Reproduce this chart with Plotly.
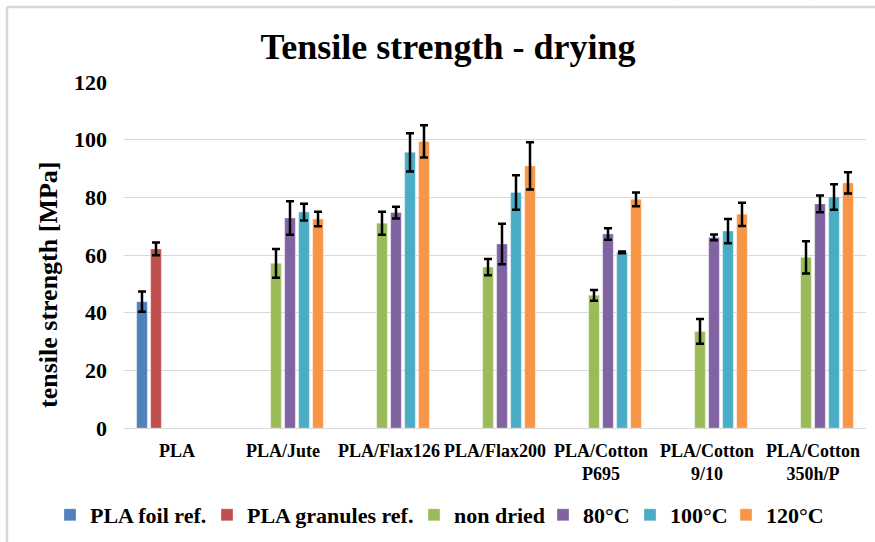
import plotly.graph_objects as go

categories = ["PLA", "PLA/Jute", "PLA/Flax126", "PLA/Flax200",
              "PLA/Cotton<br>P695", "PLA/Cotton<br>9/10", "PLA/Cotton<br>350h/P"]

series_names = ["PLA foil ref.", "PLA granules ref.", "non dried", "80°C", "100°C", "120°C"]
colors = ["#4F81BD", "#C0504D", "#9BBB59", "#8064A2", "#4BACC6", "#F79646"]

foil_ref = [43.8, None, None, None, None, None, None]
foil_err = [3.5, None, None, None, None, None, None]
granules_ref = [62.1, None, None, None, None, None, None]
granules_err = [2.2, None, None, None, None, None, None]
non_dried = [None, 57.1, 71.0, 55.8, 46.0, 33.5, 59.2]
non_dried_err = [None, 5.0, 4.0, 2.8, 1.9, 4.3, 5.6]
dried_80 = [None, 72.8, 74.7, 63.8, 67.3, 66.1, 77.7]
dried_80_err = [None, 5.8, 2.0, 7.0, 2.0, 1.0, 2.9]
dried_100 = [None, 74.9, 95.6, 81.7, 60.9, 68.3, 80.1]
dried_100_err = [None, 2.9, 6.6, 6.0, 0.3, 4.2, 4.4]
dried_120 = [None, 72.5, 99.4, 90.9, 79.3, 74.1, 85.0]
dried_120_err = [None, 2.5, 5.6, 8.2, 2.4, 4.0, 3.7]

values = [foil_ref, granules_ref, non_dried, dried_80, dried_100, dried_120]
errors = [foil_err, granules_err, non_dried_err, dried_80_err, dried_100_err, dried_120_err]

yticks = [0, 20, 40, 60, 80, 100, 120]

FONT = "Liberation Serif"

L, R, T, B = 124, 9, 82, 114
W, H = 875, 542
pw, ph = W - L - R, H - T - B

def px_x(p):
    return (p - L) / pw

def px_y(p):
    return (H - B - p) / ph

# legend entry widths (px) so the entries sit where the reference puts them
legend_widths = [112, 162, 84, 42, 51, 56]

fig = go.Figure()
for name, col, vals, errs, lw in zip(series_names, colors, values, errors, legend_widths):
    fig.add_trace(go.Bar(
        name="<b>%s</b>" % name, x=categories, y=vals,
        legendwidth=lw,
        marker=dict(color=col, line=dict(color="rgba(255,255,255,0.6)", width=0.5)),
        error_y=dict(type="data", array=[e if e is not None else 0 for e in errs],
                     visible=True, color="black", thickness=2.5, width=4),
    ))

fig.update_layout(
    width=W, height=H,
    margin=dict(l=L, r=R, t=T, b=B, pad=0, autoexpand=False),
    paper_bgcolor="white", plot_bgcolor="white",
    barmode="group", bargap=0.2075, bargroupgap=0.24,
    font=dict(family=FONT, color="black"),
    title=dict(text="<b>Tensile strength - drying</b>", x=448 / W, xref="container",
               xanchor="center", y=1 - 46 / H, yref="container", yanchor="middle",
               font=dict(family=FONT, size=36, color="black")),
    showlegend=True,
    legend=dict(orientation="h", x=px_x(50), xref="paper", xanchor="left",
                y=px_y(515), yref="paper", yanchor="middle",
                font=dict(family=FONT, size=22, color="black"),
                itemwidth=30, traceorder="normal", bgcolor="rgba(0,0,0,0)"),
    xaxis=dict(type="category", showgrid=False, showline=True, linecolor="#D9D9D9", linewidth=1,
               ticks="", tickfont=dict(family=FONT, size=18, color="black"),
               ticklabelstandoff=6, automargin=False),
    yaxis=dict(range=[0, 120], tickvals=yticks, showgrid=True, gridcolor="#D9D9D9", gridwidth=1,
               zeroline=False, showline=False, ticks="", automargin=False,
               tickfont=dict(family=FONT, size=22, color="black"), ticklabelstandoff=16),
)

# make tick labels bold
fig.update_xaxes(tickvals=categories, ticktext=["<b>%s</b>" % c for c in categories])
fig.update_yaxes(ticktext=["<b>%d</b>" % v for v in yticks])

# y axis title
fig.add_annotation(text="<b>tensile strength [MPa]</b>", xref="paper", yref="paper",
                   x=px_x(48), y=px_y(285), xanchor="center", yanchor="middle",
                   textangle=-90, showarrow=False,
                   font=dict(family=FONT, size=26, color="black"))

# outer chart frame (left and top edges)
fig.add_shape(type="line", xref="paper", yref="paper", x0=px_x(7), x1=px_x(880),
              y0=px_y(7), y1=px_y(7), line=dict(color="#D9D9D9", width=2.5))
fig.add_shape(type="line", xref="paper", yref="paper", x0=px_x(7), x1=px_x(7),
              y0=px_y(7), y1=px_y(550), line=dict(color="#D9D9D9", width=2.5))

# fragment of document text above the chart (cut off by the page edge, as in the source)
fig.add_annotation(text="properties (high-length)", xref="paper", yref="paper",
                   x=px_x(826), xanchor="right", y=px_y(3), yanchor="bottom",
                   showarrow=False, font=dict(family=FONT, size=30, color="black"))

fig.write_html("out.html")
